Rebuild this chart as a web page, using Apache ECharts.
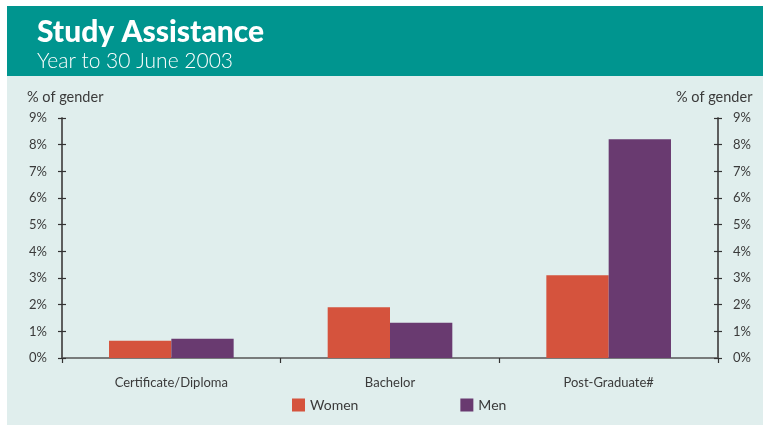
<!DOCTYPE html>
<html>
<head>
<meta charset="utf-8">
<script src="https://cdn.jsdelivr.net/npm/echarts@6/dist/echarts.min.js"></script>
<style>
  html, body { margin: 0; padding: 0; background: #ffffff; }
  #chart { width: 763px; height: 425px; }
</style>
</head>
<body>
<div id="chart"></div>
<script>
// Study assistance by qualification level, year to 30 June 2003
const categories = ['Certificate/Diploma', 'Bachelor', 'Post-Graduate#'];
const women = [0.65, 1.9, 3.1];
const men = [0.72, 1.32, 8.2];
const tickLabels = ['0%', '1%', '2%', '3%', '4%', '5%', '6%', '7%', '8%', '9%'];

const FONT = 'Lato, "Open Sans", sans-serif';
const AXIS = '#555555';
const TEXT = '#3a3a3a';

const chart = echarts.init(document.getElementById('chart'));

function valueAxis(position, inside, showLabels) {
  return {
    type: 'value',
    position: position,
    min: 0, max: 9, interval: 1,
    name: showLabels ? '% of gender' : '',
    nameLocation: 'end',
    nameGap: 13,
    nameTextStyle: {
      color: TEXT, fontFamily: FONT, fontSize: 14.5,
      align: 'left',
      padding: position === 'left' ? [0, 0, 0, -35] : [0, 0, 0, -42]
    },
    axisLine: { show: true, lineStyle: { color: AXIS, width: 1.5 } },
    axisTick: { show: true, inside: inside, length: 4, lineStyle: { color: '#333', width: 1.2 } },
    axisLabel: {
      show: showLabels, margin: 15, color: TEXT, fontFamily: FONT, fontSize: 13,
      formatter: function (v) { return tickLabels[v]; }
    },
    splitLine: { show: false }
  };
}

chart.setOption({
  backgroundColor: '#ffffff',
  animation: false,
  graphic: [
    { type: 'rect', z: -10, shape: { x: 7, y: 76, width: 756, height: 349 }, style: { fill: '#e0eeed' } },
    { type: 'rect', z: -10, shape: { x: 7, y: 6, width: 756, height: 70 }, style: { fill: '#00958f' } }
  ],
  title: {
    text: 'Study Assistance',
    subtext: 'Year to 30 June 2003',
    left: 32, top: 12,
    itemGap: 4,
    textStyle: { color: '#ffffff', fontFamily: FONT, fontSize: 30, fontWeight: 900 },
    subtextStyle: { color: '#ffffff', fontFamily: FONT, fontSize: 21, fontWeight: 300 }
  },
  legend: {
    left: 287, top: 393,
    itemWidth: 13, itemHeight: 13, itemGap: 102,
    icon: 'rect',
    textStyle: { color: TEXT, fontFamily: FONT, fontSize: 14 },
    data: ['Women', 'Men']
  },
  grid: { left: 62, right: 45, top: 118, bottom: 67 },
  xAxis: {
    type: 'category',
    data: categories,
    axisLine: { show: true, lineStyle: { color: AXIS, width: 1.5 } },
    axisTick: { show: true, inside: false, length: 5, lineStyle: { color: '#333', width: 1.2 } },
    axisLabel: { margin: 18, color: TEXT, fontFamily: FONT, fontSize: 13 }
  },
  yAxis: [
    valueAxis('left', false, true),
    valueAxis('right', false, true),
    valueAxis('left', true, false),
    valueAxis('right', true, false)
  ],
  series: [
    { name: 'Women', type: 'bar', data: women, itemStyle: { color: '#d5533d' },
      barGap: '0%', barCategoryGap: '43%' },
    { name: 'Men', type: 'bar', data: men, itemStyle: { color: '#693a70' },
      barGap: '0%', barCategoryGap: '43%' }
  ]
});
</script>
</body>
</html>
